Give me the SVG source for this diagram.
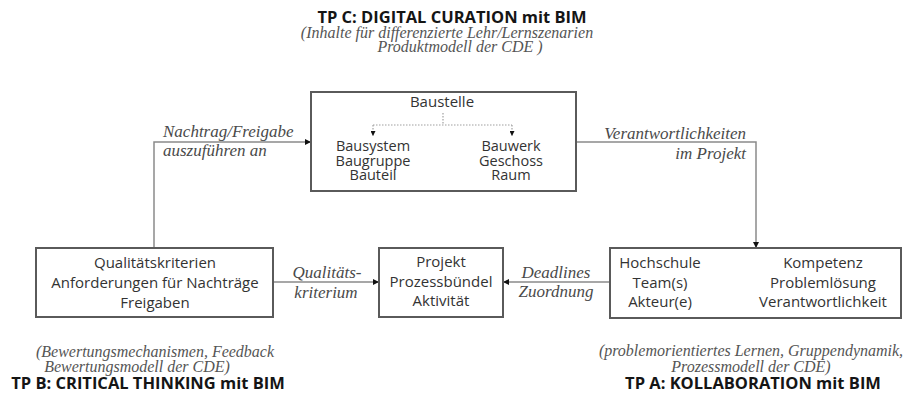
<svg xmlns="http://www.w3.org/2000/svg" width="906" height="397" viewBox="0 0 906 397">
  <style>
    .box { fill: #ffffff; stroke: #5a5a5a; stroke-width: 2; }
    .node { font-family: "Open Sans", "Noto Sans", sans-serif; font-size: 15px; fill: #333333; text-anchor: middle; }
    .tight { font-size: 14.5px; }
    .lbl { font-family: "Liberation Serif", "Times New Roman", serif; font-style: italic; font-size: 17px; fill: #4a4a4a; }
    .note { font-family: "Liberation Serif", "Times New Roman", serif; font-style: italic; font-size: 16px; fill: #555555; text-anchor: middle; }
    .title { font-family: "Open Sans", "Noto Sans", sans-serif; font-weight: bold; font-size: 16.5px; fill: #151515; text-anchor: middle; }
    .conn { fill: none; stroke: #8a8a8a; stroke-width: 1.5; }
    .inner { fill: none; stroke: #a0a0a0; stroke-width: 1.2; stroke-dasharray: 1.5 1.5; }
  </style>
  <defs>
    <marker id="arrow" viewBox="0 0 6 6" refX="6" refY="3" markerWidth="6" markerHeight="6" markerUnits="userSpaceOnUse" orient="auto">
      <path d="M0,0 L6,3 L0,6 Z" fill="#111111"/>
    </marker>
    <marker id="arrowSmall" viewBox="0 0 6 6" refX="6" refY="3" markerWidth="5" markerHeight="5" markerUnits="userSpaceOnUse" orient="auto">
      <path d="M0,0 L6,3 L0,6 Z" fill="#111111"/>
    </marker>
  </defs>

  <!-- sub-project headings and notes -->
  <g id="tp-c">
    <text class="title" x="452" y="23">TP C: DIGITAL CURATION mit BIM</text>
    <text class="note" x="447" y="38">(Inhalte für differenzierte Lehr/Lernszenarien</text>
    <text class="note" x="460" y="52">Produktmodell der CDE )</text>
  </g>
  <g id="tp-b">
    <text class="note" x="155" y="357">(Bewertungsmechanismen, Feedback</text>
    <text class="note" x="137" y="372">Bewertungsmodell der CDE)</text>
    <text class="title" x="148" y="389">TP B: CRITICAL THINKING mit BIM</text>
  </g>
  <g id="tp-a">
    <text class="note" x="751" y="356">(problemorientiertes Lernen, Gruppendynamik,</text>
    <text class="note" x="751" y="372">Prozessmodell der CDE)</text>
    <text class="title" x="753" y="389">TP A: KOLLABORATION mit BIM</text>
  </g>

  <!-- connectors between the nodes -->
  <g id="connectors">
    <path class="conn" d="M154,248 V142 H311" marker-end="url(#arrow)"/>
    <path class="conn" d="M576,142 H756 V248" marker-end="url(#arrow)"/>
    <path class="conn" d="M273,282 H379" marker-end="url(#arrow)"/>
    <path class="conn" d="M610,282 H503" marker-end="url(#arrow)"/>
    <text class="lbl" x="163" y="137">Nachtrag/Freigabe</text>
    <text class="lbl" x="163" y="156">auszuführen an</text>
    <text class="lbl" x="746" y="139" text-anchor="end">Verantwortlichkeiten</text>
    <text class="lbl" x="746" y="159" text-anchor="end">im Projekt</text>
    <text class="lbl" x="327" y="278" text-anchor="middle">Qualitäts-</text>
    <text class="lbl" x="326" y="298" text-anchor="middle">kriterium</text>
    <text class="lbl" x="556" y="278" text-anchor="middle">Deadlines</text>
    <text class="lbl" x="556" y="297" text-anchor="middle">Zuordnung</text>
  </g>

  <!-- Baustelle with its two breakdowns -->
  <g id="baustelle">
    <rect class="box" x="311" y="92" width="265" height="99"/>
    <text class="node" x="442" y="107">Baustelle</text>
    <path class="inner" d="M443,113 V125 M373,125 H512"/>
    <path class="inner" d="M373,125 V136" marker-end="url(#arrowSmall)"/>
    <path class="inner" d="M512,125 V136" marker-end="url(#arrowSmall)"/>
    <text class="node tight" x="373" y="151">Bausystem</text>
    <text class="node tight" x="373" y="165.5">Baugruppe</text>
    <text class="node tight" x="373" y="180">Bauteil</text>
    <text class="node tight" x="511" y="151">Bauwerk</text>
    <text class="node tight" x="511" y="165.5">Geschoss</text>
    <text class="node tight" x="511" y="180">Raum</text>
  </g>

  <g id="qualitaet">
    <rect class="box" x="36" y="248" width="237" height="69"/>
    <text class="node" x="155" y="268">Qualitätskriterien</text>
    <text class="node" x="155" y="288">Anforderungen für Nachträge</text>
    <text class="node" x="155" y="307.5">Freigaben</text>
  </g>

  <g id="projekt">
    <rect class="box" x="379" y="248" width="124" height="69"/>
    <text class="node" x="441" y="267">Projekt</text>
    <text class="node" x="441" y="287">Prozessbündel</text>
    <text class="node" x="441" y="306">Aktivität</text>
  </g>

  <g id="hochschule">
    <rect class="box" x="610" y="248" width="291" height="70"/>
    <text class="node" x="660" y="268">Hochschule</text>
    <text class="node" x="660" y="288">Team(s)</text>
    <text class="node" x="660" y="307">Akteur(e)</text>
    <text class="node" x="823" y="268">Kompetenz</text>
    <text class="node" x="823" y="288">Problemlösung</text>
    <text class="node" x="823" y="307">Verantwortlichkeit</text>
  </g>
</svg>
